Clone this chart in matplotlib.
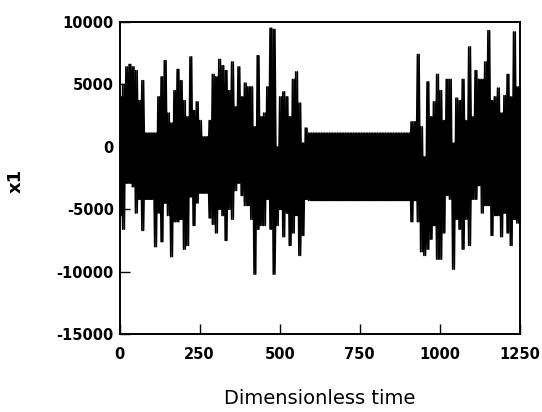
import matplotlib.pyplot as plt
import numpy as np

plt.rcParams['axes.unicode_minus'] = False

# Envelope of the x1 signal, every 10 time units (0..1250)
time = np.arange(0, 1251, 10)

upper = [4000, 5000, 6400, 6600, 6400, 6100, 3700, 5300, 1100, 1100,
         1100, 1100, 4000, 5600, 6900, 2700, 1900, 4500, 6200, 5300,
         3700, 2400, 7200, 2900, 3600, 2100, 800, 800, 2100, 5800,
         5600, 7000, 6500, 6100, 4500, 6800, 3200, 6400, 4000, 5100,
         4800, 4800, 1600, 7300, 2400, 2700, 4800, 9500, 9400, 0,
         4000, 4400, 4000, 2400, 5400, 6000, 3500, 300, 1500] \
    + [1100] * 32 \
    + [2000, 2000, 7400, 1600, -800, 5200, 2400, 3600, 5800, 4500,
       2100, 5400, 5400, 300, 3900, 3700, 5400, 2100, 8000, 2400,
       6100, 5400, 5400, 6800, 9300, 3700, 4000, 4700, 2700, 4100,
       5800, 4000, 9200, 4800, 4800]

lower = [-5500, -6600, -2900, -2900, -3200, -5300, -4200, -6700, -4200, -4200,
         -4200, -8000, -5300, -7600, -4500, -5500, -8800, -6000, -6000, -5800,
         -8200, -7900, -4000, -6300, -4500, -3700, -3700, -3700, -5700, -6200,
         -6900, -5000, -5500, -7500, -5000, -5800, -3500, -2900, -3900, -4700,
         -4700, -5800, -10200, -6600, -6300, -6300, -4200, -6600, -10200, -6300,
         -5000, -7200, -5300, -7900, -6900, -5500, -8700, -7100, -4200] \
    + [-4300] * 32 \
    + [-6000, -4300, -6000, -8400, -8700, -8200, -7400, -6300, -9000, -9000,
       -6900, -3900, -4200, -9800, -5800, -6600, -8200, -5800, -7900, -4200,
       -4200, -3100, -5300, -4700, -4700, -7100, -5500, -5500, -7200, -5300,
       -6900, -7900, -5800, -6100, -6100]

up = np.array(upper, dtype=float)
lo = np.array(lower, dtype=float)

# interleave highs and lows so the trace oscillates like the original
t_line = np.empty(2 * len(time))
t_line[0::2] = time
t_line[1::2] = np.minimum(time + 5, 1250)
x_a = np.empty(2 * len(time))
x_a[0::2] = up
x_a[1::2] = lo
x_b = np.empty(2 * len(time))
x_b[0::2] = lo
x_b[1::2] = up

# solid core of the trace (spikes excluded, they are drawn by the lines)
pad_up = np.pad(up, 1, mode='edge')
pad_lo = np.pad(lo, 1, mode='edge')
core_top = np.minimum(np.minimum(pad_up[:-2], pad_up[1:-1]), pad_up[2:])
core_bot = np.maximum(np.maximum(pad_lo[:-2], pad_lo[1:-1]), pad_lo[2:])

fig = plt.figure(figsize=(5.42, 4.12), dpi=100)
ax = fig.add_axes([0.2205, 0.1893, 0.7389, 0.7573])

ax.fill_between(time, core_bot, core_top, where=core_top > core_bot,
                color='black', linewidth=0)
ax.plot(t_line, x_a, color='black', linewidth=1.2)
ax.plot(t_line, x_b, color='black', linewidth=1.2)

ax.set_xlim(0, 1250)
ax.set_ylim(-15000, 10000)
ax.set_xticks([0, 250, 500, 750, 1000, 1250])
ax.set_yticks([-15000, -10000, -5000, 0, 5000, 10000])

ax.tick_params(direction='in', length=7, width=1, pad=9,
               top=False, right=False)
for lab in ax.get_xticklabels() + ax.get_yticklabels():
    lab.set_fontfamily('DejaVu Sans')
    lab.set_fontweight('bold')
    lab.set_fontsize(10.5)
ax.tick_params(axis='y', pad=4)

for s in ax.spines.values():
    s.set_linewidth(1.4)

ax.set_xlabel('Dimensionless time', fontsize=14, family='DejaVu Sans', va='top')
ax.xaxis.set_label_coords(0.5, -0.175)
ax.set_ylabel('x1', fontsize=13, family='DejaVu Sans', fontweight='bold')
ax.yaxis.set_label_coords(-0.236, 0.49)

fig.savefig('out.png', dpi=100)
